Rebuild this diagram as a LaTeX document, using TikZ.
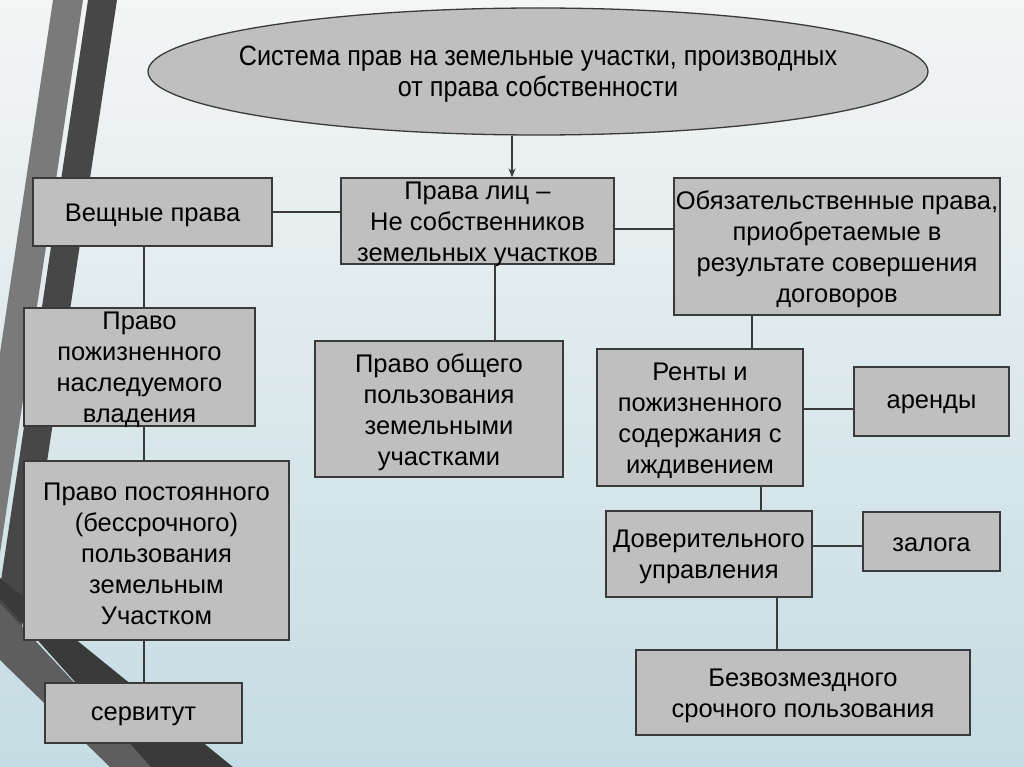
\documentclass[tikz,border=0pt]{standalone}
\usepackage{fontspec}
\setmainfont{Liberation Sans}
\newfontfamily\narrowfont[FakeStretch=0.9]{Liberation Sans}
\usetikzlibrary{arrows.meta,shapes.geometric}
\definecolor{boxfill}{HTML}{BFBFBF}
\definecolor{boxline}{HTML}{3A3A3A}
\definecolor{bgtop}{HTML}{F4F5F5}
\definecolor{bgbot}{HTML}{C4DCE3}
\definecolor{stripeA}{HTML}{7A7A7A}
\definecolor{stripeB}{HTML}{474747}
\definecolor{bandA}{HTML}{3A3A3A}
\definecolor{bandB}{HTML}{5E5E5E}
\tikzset{
  box/.style={draw=boxline, line width=1.3pt, fill=boxfill, rectangle, inner sep=0pt},
  txt/.style={inner sep=0pt, align=center, font=\fontsize{25.5}{31}\selectfont},
  link/.style={draw=boxline, line width=1.2pt},
}
% box: name, cx, cy, width, height, text
\newcommand\bx[6]{%
  \node[box, minimum width=#4pt, minimum height=#5pt] (#1) at (#2,#3) {};
  \node[txt] (#1-t) at ([yshift=-3pt]#1.center) {#6};}
\begin{document}
\begin{tikzpicture}[x=1pt,y=-1pt]
\useasboundingbox (0,0) rectangle (1024,767);
% background
\shade[top color=bgtop, bottom color=bgbot] (0,0) rectangle (1024,767);
% decorative stripes
\fill[stripeA] (53,0) -- (83,0) -- (0,553) -- (0,353) -- cycle;
\fill[stripeB] (88,0) -- (117,0) -- (20,640) -- (0,650) -- (0,587) -- cycle;
\fill[bandB] (0,603) -- (0,660) -- (110,767) -- (153,767) -- cycle;
\fill[bandA] (0,578) -- (0,598) -- (151,767) -- (233,767) -- cycle;

% title ellipse
\node[ellipse, draw=boxline, line width=1.3pt, fill=boxfill, minimum width=780pt, minimum height=127pt,
  inner sep=0pt] (ell) at (538,71.5) {};
\node[inner sep=0pt, align=center, font=\narrowfont\fontsize{28}{31}\selectfont] (ell-t)
  at ([yshift=-3pt]ell.center) {Система прав на земельные участки, производных\\от права собственности};

% boxes
\bx{vesh}{152.5}{212}{239}{68}{Вещные права}
\bx{prava}{477.5}{221}{273}{86}{Права лиц –\\Не собственников\\земельных участков}
\bx{obyaz}{837}{246.5}{326}{137}{Обязательственные права,\\приобретаемые в\\результате совершения\\договоров}
\bx{pozh}{139.5}{367}{231}{118}{Право\\пожизненного\\наследуемого\\владения}
\bx{post}{156.5}{550.5}{265}{179}{Право постоянного\\(бессрочного)\\пользования\\земельным\\Участком}
\bx{serv}{143.5}{713}{197}{60}{сервитут}
\bx{obsh}{439}{409}{248}{136}{Право общего\\пользования\\земельными\\участками}
\bx{renta}{700}{417.5}{206}{137}{Ренты и\\пожизненного\\содержания с\\иждивением}
\bx{arenda}{931.5}{401.5}{155}{69}{аренды}
\bx{dover}{709}{554}{206}{86}{Доверительного\\управления}
\bx{zalog}{931.5}{541.5}{137}{59}{залога}
\bx{bezv}{803}{692.5}{334}{85}{Безвозмездного\\срочного пользования}

% guide coordinates
\coordinate (xE) at (512,0);
\coordinate (xL) at (144,0);
\coordinate (xP) at (495,0);
\coordinate (xO) at (752,0);
\coordinate (xR) at (761,0);
\coordinate (xD) at (777,0);
\coordinate (yA) at (0,229);
\coordinate (yB) at (0,409);
\coordinate (yC) at (0,546);

% connectors
\draw[link, -{Stealth[length=9pt,width=7pt]}] (ell.south -| xE) -- (prava.north -| xE);
\draw[link] (vesh.east) -- (vesh.east -| prava.west);
\draw[link] (prava.east |- yA) -- (obyaz.west |- yA);
\draw[link] (vesh.south -| xL) -- (pozh.north -| xL);
\draw[link] (pozh.south -| xL) -- (post.north -| xL);
\draw[link] (post.south -| xL) -- (serv.north -| xL);
\draw[link] (prava.south -| xP) -- (obsh.north -| xP);
\draw[link] (obyaz.south -| xO) -- (renta.north -| xO);
\draw[link] (renta.east |- yB) -- (arenda.west |- yB);
\draw[link] (renta.south -| xR) -- (dover.north -| xR);
\draw[link] (dover.east |- yC) -- (zalog.west |- yC);
\draw[link] (dover.south -| xD) -- (bezv.north -| xD);
\end{tikzpicture}
\end{document}
